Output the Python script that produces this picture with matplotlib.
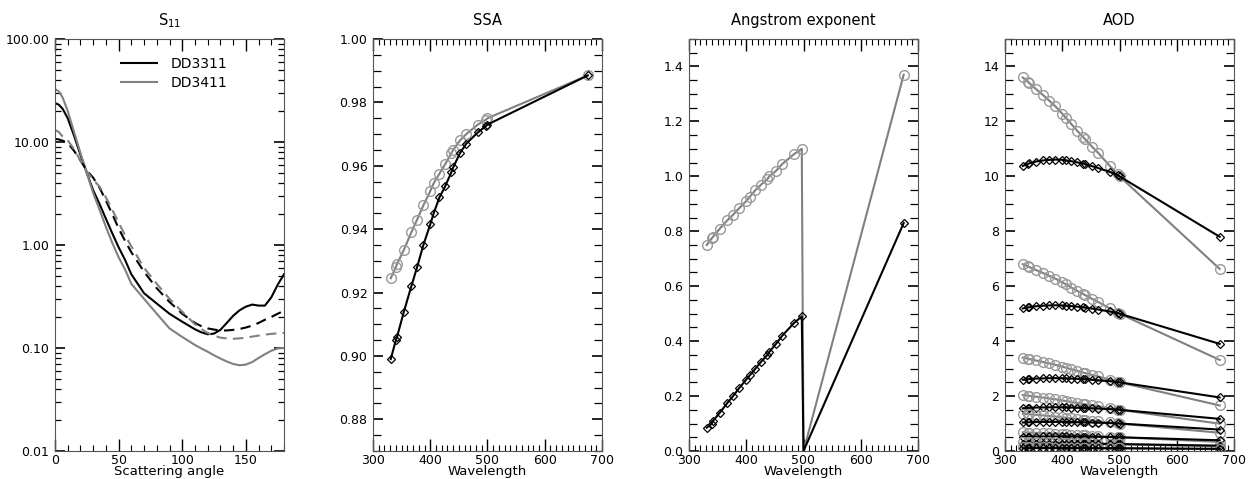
import numpy as np
import matplotlib
matplotlib.use("Agg")
import matplotlib.pyplot as plt
from matplotlib.ticker import MultipleLocator, LogLocator, FormatStrFormatter, NullFormatter

# ---- data ----
angle = [0, 3, 6, 10, 15, 20, 25, 30, 35, 40, 45, 50, 55, 60, 70, 80, 90, 100,
         110, 115, 120, 125, 130, 135, 140, 145, 150, 155, 160, 165, 170, 175, 180]
s11_dd3311 = [23.9, 23.0, 21.0, 17.0, 11.5, 7.5, 5.0, 3.4, 2.5, 1.8, 1.3, 0.95, 0.72, 0.52,
              0.34, 0.27, 0.215, 0.18, 0.152, 0.142, 0.136, 0.138, 0.15, 0.175, 0.205,
              0.232, 0.252, 0.264, 0.258, 0.258, 0.31, 0.41, 0.52]
s11_dd3411 = [32.7, 31.0, 27.0, 20.0, 12.5, 7.8, 5.0, 3.2, 2.2, 1.5, 1.05, 0.76, 0.58, 0.42,
              0.30, 0.215, 0.155, 0.128, 0.107, 0.099, 0.092, 0.085, 0.079, 0.074, 0.07,
              0.068, 0.069, 0.073, 0.08, 0.087, 0.094, 0.099, 0.10]
hg_dd3311 = [10.7, 10.6, 10.3, 9.8, 8.2, 6.6, 5.3, 4.5, 3.6, 2.7, 2.0, 1.45, 1.1, 0.85,
             0.55, 0.38, 0.28, 0.215, 0.175, 0.163, 0.155, 0.151, 0.148, 0.148, 0.15,
             0.153, 0.158, 0.165, 0.175, 0.188, 0.2, 0.215, 0.23]
hg_dd3411 = [13.1, 12.5, 11.3, 10.4, 8.5, 6.6, 5.2, 4.3, 3.7, 2.9, 2.2, 1.65, 1.25, 0.97,
             0.6, 0.42, 0.3, 0.225, 0.17, 0.153, 0.14, 0.132, 0.126, 0.124, 0.123,
             0.124, 0.126, 0.129, 0.132, 0.135, 0.137, 0.139, 0.14]

wavelength = [331, 340, 342, 354, 367, 377, 388, 400, 406, 416, 426, 437, 440, 452,
              463, 483, 497, 500, 675]
ssa_dd3311 = [0.899, 0.905, 0.906, 0.914, 0.922, 0.928, 0.935, 0.9415, 0.945, 0.950,
              0.9535, 0.958, 0.9595, 0.964, 0.967, 0.9705, 0.9725, 0.973, 0.9885]
ssa_dd3411 = [0.9245, 0.928, 0.929, 0.9335, 0.939, 0.943, 0.9475, 0.952, 0.9545, 0.9575,
              0.9605, 0.964, 0.965, 0.968, 0.970, 0.973, 0.9745, 0.975, 0.9885]
ae_dd3311 = [0.085, 0.10, 0.11, 0.14, 0.175, 0.20, 0.23, 0.26, 0.275, 0.30, 0.325, 0.35,
             0.36, 0.39, 0.42, 0.465, 0.49, 0.0, 0.83]
ae_dd3411 = [0.75, 0.775, 0.78, 0.81, 0.84, 0.86, 0.885, 0.91, 0.925, 0.95, 0.97, 0.99,
             1.0, 1.02, 1.045, 1.08, 1.10, 0.0, 1.37]
# AOD spectra relative to AOD(500), and the AOD(500) levels drawn
aodrel_dd3311 = [1.038, 1.045, 1.047, 1.054, 1.058, 1.060, 1.061, 1.060, 1.058, 1.055,
                 1.051, 1.046, 1.044, 1.037, 1.030, 1.016, 1.004, 1.0, 0.78]
aodrel_dd3411 = [1.360, 1.345, 1.340, 1.318, 1.295, 1.276, 1.255, 1.228, 1.214, 1.19,
                 1.166, 1.142, 1.135, 1.108, 1.085, 1.038, 1.007, 1.0, 0.663]
aod500 = [10, 5, 2.5, 1.5, 1.0, 0.5, 0.25, 0.1]

BLACK = "black"
GREY = "#808080"
MGREY = "#999999"

fig = plt.figure(figsize=(12.48, 4.79), dpi=100)
lefts = [55, 373, 689, 1005]
axs = [fig.add_axes([l / 1248, 28 / 479, 229 / 1248, 412 / 479]) for l in lefts]


def style(ax, title, xlabel):
    for s in ax.spines.values():
        s.set_color("#555555")
    ax.tick_params(which="both", direction="in", top=True, right=True, labelsize=9)
    ax.tick_params(axis="x", which="major", length=8.5, width=1.0, pad=2)
    ax.tick_params(axis="x", which="minor", length=4.3, width=0.8)
    ax.tick_params(axis="y", which="major", length=7.5, width=1.2, pad=4)
    ax.tick_params(axis="y", which="minor", length=5.5, width=0.9)
    ax.set_title(title, fontsize=10.5, pad=10)
    ax.set_xlabel(xlabel, fontsize=9.5, labelpad=-1)


# S11
ax = axs[0]
ax.plot(angle, s11_dd3311, color=BLACK, lw=1.5, label="DD3311")
ax.plot(angle, s11_dd3411, color=GREY, lw=1.5, label="DD3411")
ax.plot(angle, hg_dd3311, color=BLACK, lw=1.5, ls=(0, (5, 3)))
ax.plot(angle, hg_dd3411, color=GREY, lw=1.5, ls=(0, (5, 3)))
ax.set_yscale("log")
ax.set_ylim(0.01, 100)
ax.set_xlim(0, 180)
ax.yaxis.set_major_locator(LogLocator(base=10, numticks=10))
ax.yaxis.set_minor_locator(LogLocator(base=10, subs=np.arange(2, 10), numticks=10))
ax.yaxis.set_major_formatter(FormatStrFormatter("%.2f"))
ax.yaxis.set_minor_formatter(NullFormatter())
ax.xaxis.set_major_locator(MultipleLocator(50))
ax.xaxis.set_minor_locator(MultipleLocator(10))
style(ax, "S$_{11}$", "Scattering angle")
ax.tick_params(axis="y", which="minor", length=4.5)
ax.legend(loc="upper center", frameon=False, fontsize=10, handlelength=2.6,
          handletextpad=1.0, borderaxespad=0.9, labelspacing=0.35,
          bbox_to_anchor=(0.52, 1.0))

# SSA
ax = axs[1]
ax.plot(wavelength, ssa_dd3411, color=GREY, lw=1.5, marker="o", ms=7, mfc="none",
        mec=MGREY, mew=1.0)
ax.plot(wavelength, ssa_dd3311, color=BLACK, lw=1.5, marker="D", ms=4.5, mfc="none",
        mec=BLACK, mew=0.9)
ax.set_xlim(300, 700)
ax.set_ylim(0.87, 1.0)
ax.yaxis.set_major_locator(MultipleLocator(0.02))
ax.yaxis.set_minor_locator(MultipleLocator(0.005))
ax.yaxis.set_major_formatter(FormatStrFormatter("%.2f"))
ax.xaxis.set_major_locator(MultipleLocator(100))
ax.xaxis.set_minor_locator(MultipleLocator(10))
style(ax, "SSA", "Wavelength")

# Angstrom exponent
ax = axs[2]
ax.plot(wavelength, ae_dd3411, color=GREY, lw=1.5, marker="o", ms=7, mfc="none",
        mec=MGREY, mew=1.0, markevery=[i for i in range(len(wavelength)) if i != 17])
ax.plot(wavelength, ae_dd3311, color=BLACK, lw=1.5, marker="D", ms=4.5, mfc="none",
        mec=BLACK, mew=0.9, markevery=[i for i in range(len(wavelength)) if i != 17])
ax.set_xlim(300, 700)
ax.set_ylim(0, 1.5)
ax.yaxis.set_major_locator(MultipleLocator(0.2))
ax.yaxis.set_minor_locator(MultipleLocator(0.05))
ax.yaxis.set_major_formatter(FormatStrFormatter("%.1f"))
ax.xaxis.set_major_locator(MultipleLocator(100))
ax.xaxis.set_minor_locator(MultipleLocator(10))
style(ax, "Angstrom exponent", "Wavelength")

# AOD
ax = axs[3]
for a in aod500:
    ax.plot(wavelength, np.array(aodrel_dd3411) * a, color=GREY, lw=1.5, marker="o", ms=7,
            mfc="none", mec=MGREY, mew=1.0)
    ax.plot(wavelength, np.array(aodrel_dd3311) * a, color=BLACK, lw=1.5, marker="D", ms=4.5,
            mfc="none", mec=BLACK, mew=0.9)
ax.set_xlim(300, 700)
ax.set_ylim(0, 15)
ax.yaxis.set_major_locator(MultipleLocator(2))
ax.yaxis.set_minor_locator(MultipleLocator(0.5))
ax.yaxis.set_major_formatter(FormatStrFormatter("%d"))
ax.xaxis.set_major_locator(MultipleLocator(100))
ax.xaxis.set_minor_locator(MultipleLocator(10))
style(ax, "AOD", "Wavelength")

fig.savefig("out.png", dpi=100)
